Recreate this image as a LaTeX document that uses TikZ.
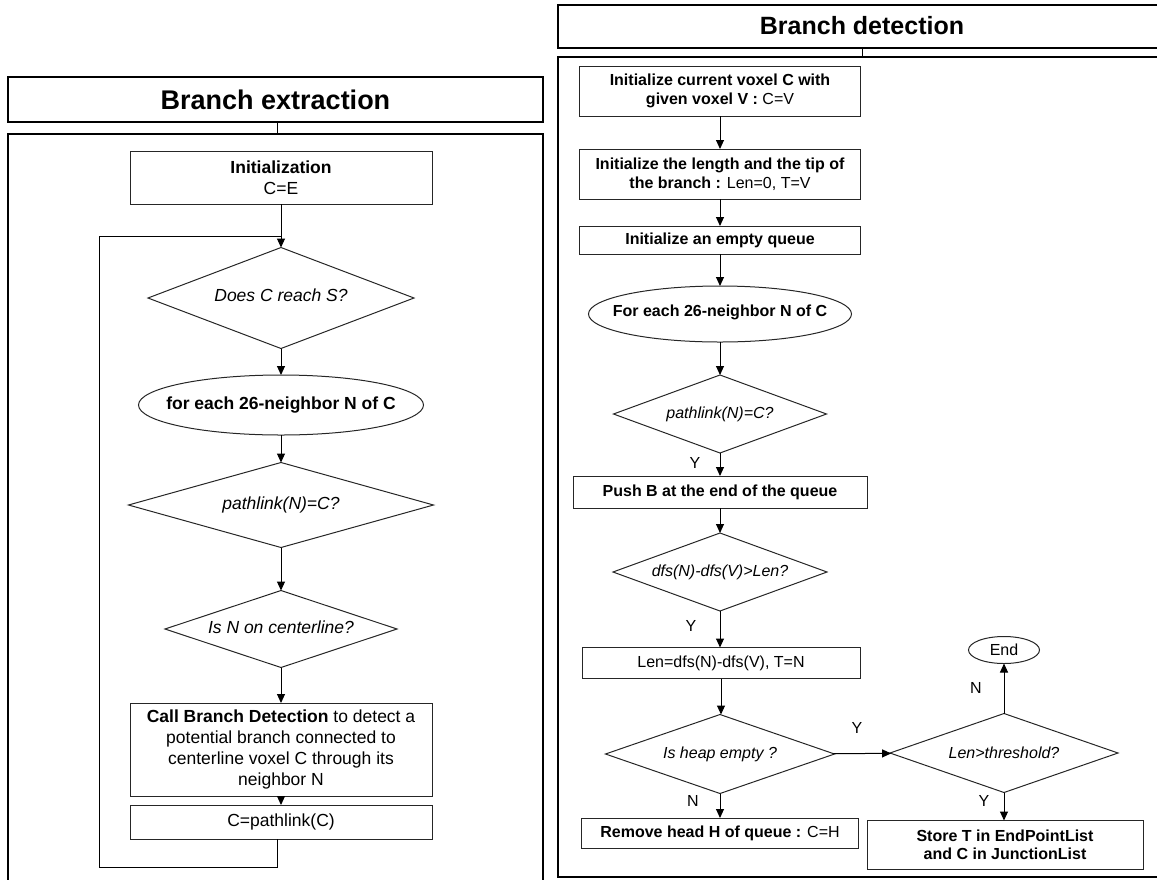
\documentclass[tikz,border=0pt]{standalone}
\usepackage{fontspec}
\setmainfont{Liberation Sans}
\usetikzlibrary{shapes.geometric,arrows.meta}
\newcommand{\zw}[1]{\makebox[0pt]{#1}}
\begin{document}
\begin{tikzpicture}[x=1pt,y=-1pt,
  every node/.style={inner sep=0pt, outer sep=0pt, align=center, text=black},
  proc/.style={draw=black!85, line width=1pt, rectangle},
  cond/.style={draw=black!85, line width=1pt, diamond},
  loopnode/.style={draw=black!85, line width=1pt, ellipse},
  flow/.style={draw=black, line width=1pt, -{Triangle[length=9pt,width=8pt]}},
  plain/.style={draw=black, line width=1pt},
  frame/.style={draw=black, line width=2.2pt, rectangle},
  lfont/.style={font=\fontsize{17.5}{21}\selectfont},
  rfont/.style={font=\fontsize{16}{18.5}\selectfont},
  ttl/.style={font=\fontsize{#1}{30}\selectfont\bfseries},
  ]
\useasboundingbox (0,0) rectangle (1157,879);
\clip (0,0) rectangle (1157,879);

% ---------------- Left: branch extraction ----------------
\node[frame, anchor=north west, minimum width=535, minimum height=45] (ltitle) at (8,77) {};
\node[ttl=27] (ltitletext) at (ltitle.center) {Branch extraction};
\node[frame, anchor=north west, minimum width=535, minimum height=780] (lpanel) at (8,134) {};
\draw[plain] ([xshift=1.5pt]ltitle.south) -- ([xshift=1.5pt]ltitle.south |- lpanel.north);

\node[proc, lfont, minimum width=302, minimum height=53] (L1) at (281,177.5)
  {\textbf{Initialization}\\C=E};
\node[cond, lfont, minimum width=266, minimum height=101] (L2) at (281,298)
  {\raisebox{6pt}{\zw{\itshape Does C reach S?}}};
\node[loopnode, lfont, minimum width=285, minimum height=60] (L3) at (281,405)
  {\zw{\bfseries for each 26-neighbor N of C}};
\node[cond, lfont, minimum width=305, minimum height=85] (L4) at (281,505)
  {\zw{\itshape pathlink(N)=C?}};
\node[cond, lfont, minimum width=232, minimum height=77] (L5) at (281,629)
  {\raisebox{4pt}{\zw{\itshape Is N on centerline?}}};
\node[proc, font=\fontsize{17.5}{20.7}\selectfont, minimum width=302, minimum height=93] (L6) at (281,749.5)
  {\textbf{Call Branch Detection} to detect a\\potential branch connected to\\centerline voxel C through its\\neighbor N};
\node[proc, lfont, minimum width=302, minimum height=34] (L7) at (281,822)
  {C=pathlink(C)};

% loop back from the last step to the junction above the first test
\coordinate (jn) at (281,236);
\coordinate (lbot) at (99,867);
\draw[flow] (L1) -- (L2);
\draw[flow] (L2) -- (L3);
\draw[flow] (L3) -- (L4);
\draw[flow] (L4) -- (L5);
\draw[flow] (L5) -- (L6);
\draw[flow] (L6) -- (L7);
\draw[plain] ([xshift=-4pt]L7.south) |- (lbot) |- (jn);

% ---------------- Right: branch detection ----------------
\node[frame, anchor=north west, minimum width=610, minimum height=43] (rtitle) at (558,5) {};
\node[ttl=25] (rtitletext) at (862,26) {Branch detection};
\node[frame, anchor=north west, minimum width=610, minimum height=820] (rpanel) at (558,57) {};
\draw[plain] (862,48) coordinate (rt) -- (rt |- rpanel.north);

\node[proc, rfont, minimum width=281, minimum height=50] (R1) at (720,91)
  {\textbf{Initialize current voxel C with}\\\textbf{given voxel V :} C=V};
\node[proc, rfont, minimum width=281, minimum height=50] (R2) at (720,174)
  {\textbf{Initialize the length and the tip of}\\\textbf{the branch :} Len=0, T=V};
\node[proc, rfont, minimum width=281, minimum height=28] (R3) at (720,240)
  {\textbf{Initialize an empty queue}};
\node[loopnode, rfont, minimum width=263, minimum height=56] (R4) at (720,314)
  {\raisebox{6pt}{\zw{\bfseries For each 26-neighbor N of C}}};
\node[cond, rfont, minimum width=213, minimum height=78] (R5) at (720,414)
  {\zw{\itshape pathlink(N)=C?}};
\node[proc, rfont, minimum width=294, minimum height=32] (R6) at (720,492)
  {\textbf{Push B at the end of the queue}};
\node[cond, rfont, minimum width=214, minimum height=78] (R7) at (720,572)
  {\zw{\itshape dfs(N)-dfs(V)>Len?}};
\node[proc, rfont, minimum width=278, minimum height=31] (R8) at (721,663)
  {Len=dfs(N)-dfs(V), T=N};
\node[cond, rfont, minimum width=229, minimum height=79] (R9) at (720,754)
  {\zw{\itshape Is heap empty ?}};
\node[proc, rfont, minimum width=277, minimum height=30] (R10) at (720,833)
  {\textbf{Remove head H of queue :} C=H};
\node[cond, rfont, minimum width=228, minimum height=79] (R11) at (1004,753)
  {\zw{\itshape Len>threshold?}};
\node[loopnode, rfont, minimum width=71, minimum height=27] (R12) at (1004,650)
  {\zw{End}};
\node[proc, rfont, minimum width=276, minimum height=49] (R13) at (1005,845)
  {\textbf{Store T in EndPointList}\\\textbf{and C in JunctionList}};

\draw[flow] (R1) -- (R2);
\draw[flow] (R2) -- (R3);
\draw[flow] (R3) -- (R4);
\draw[flow] (R4) -- (R5);
\draw[flow] (R5) -- (R6);
\draw[flow] (R6) -- (R7);
\draw[flow] (R7.south) -- (R7.south |- R8.north);
\draw[flow] (R8.south) -- (R8.south |- R9.north);
\draw[flow] (R9) -- (R10);
\draw[flow] (R9) -- (R11);
\draw[flow] (R11) -- (R12);
\draw[flow] (R11.south) -- (R11.south |- R13.north);

% branch labels
\node[rfont] (y1) at (695,463) {Y};
\node[rfont] (y2) at (691,626) {Y};
\node[rfont] (y3) at (857,728) {Y};
\node[rfont] (n1) at (693,801) {N};
\node[rfont] (n2) at (976,688) {N};
\node[rfont] (y4) at (984,801) {Y};
\end{tikzpicture}
\end{document}
